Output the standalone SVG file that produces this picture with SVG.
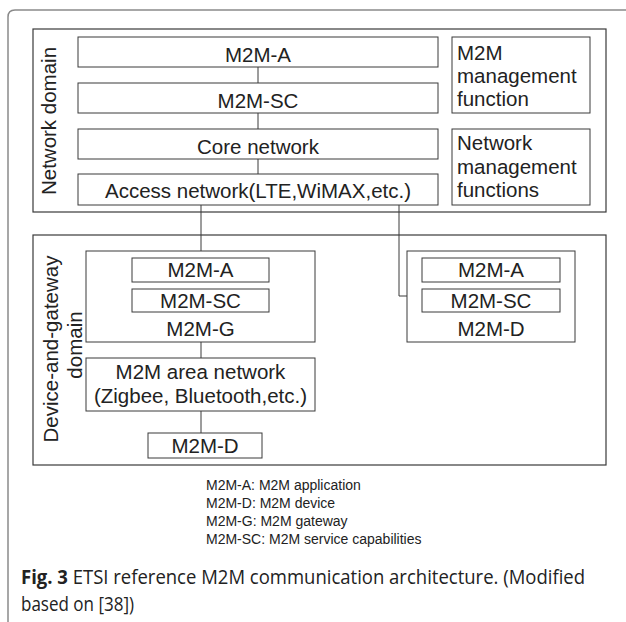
<svg xmlns="http://www.w3.org/2000/svg" width="626" height="622" viewBox="0 0 626 622">
<style>
.frame{fill:none;stroke:#8a8a8a;stroke-width:1.5}
.dom{fill:none;stroke:#3a3a3a;stroke-width:1.2}
.box{fill:#fff;stroke:#3a3a3a;stroke-width:1}
.t{font-family:"Liberation Sans",Arial,sans-serif;font-size:20.5px;fill:#222}
.c{text-anchor:middle}
.lg{font-family:"Liberation Sans",Arial,sans-serif;font-size:14px;fill:#222}
.cap{font-family:"Open Sans","Noto Sans",sans-serif;font-size:20px;fill:#222}
.ln{fill:none;stroke:#3a3a3a;stroke-width:1}
</style>
<rect width="626" height="622" fill="#fff"/>
<path class="frame" d="M8,622 V17 Q8,10 15,10 H626"/>

<g id="network-domain">
<rect class="dom" x="33" y="29" width="573" height="183"/>
<text class="t c" font-size="21" transform="translate(56,121) rotate(-90)">Network domain</text>
</g>
<g id="nd-m2m-a"><rect class="box" x="78" y="37" width="360" height="30"/><text class="t c" x="258" y="61.5">M2M-A</text></g>
<g id="nd-m2m-sc"><rect class="box" x="78" y="83" width="360" height="30"/><text class="t c" x="258" y="107.5">M2M-SC</text></g>
<g id="core-network"><rect class="box" x="78" y="129" width="360" height="30"/><text class="t c" x="258" y="153.5">Core network</text></g>
<g id="access-network"><rect class="box" x="78" y="174" width="360" height="31"/><text class="t c" x="258" y="198">Access network(LTE,WiMAX,etc.)</text></g>
<g id="m2m-mgmt"><rect class="box" x="452" y="37" width="138" height="76"/><text class="t" x="457" y="60">M2M<tspan x="457" y="83">management</tspan><tspan x="457" y="106">function</tspan></text></g>
<g id="net-mgmt"><rect class="box" x="452" y="129" width="138" height="76"/><text class="t" x="457" y="150">Network<tspan x="457" y="173.5">management</tspan><tspan x="457" y="197">functions</tspan></text></g>

<g id="device-gateway-domain">
<rect class="dom" x="33" y="235" width="573" height="230"/>
<text class="t c" font-size="21" transform="translate(58,349) rotate(-90)">Device-and-gateway</text>
<text class="t c" font-size="21" transform="translate(82,345) rotate(-90)">domain</text>
</g>
<g id="m2m-g">
<rect class="box" x="86" y="251" width="229" height="91"/>
<rect class="box" x="132" y="258" width="137" height="24"/><text class="t c" x="200.5" y="277">M2M-A</text>
<rect class="box" x="132" y="289" width="137" height="23"/><text class="t c" x="200.5" y="308">M2M-SC</text>
<text class="t c" x="200.5" y="336">M2M-G</text>
</g>
<g id="area-network">
<rect class="box" x="86" y="358" width="229" height="53"/>
<text class="t c" x="200.5" y="379">M2M area network</text>
<text class="t c" x="200.5" y="403">(Zigbee, Bluetooth,etc.)</text>
</g>
<g id="m2m-d-bottom"><rect class="box" x="148" y="433" width="114" height="25"/><text class="t c" x="205" y="453">M2M-D</text></g>
<g id="m2m-d-right">
<rect class="box" x="407" y="251" width="168" height="91"/>
<rect class="box" x="422" y="258" width="138" height="24"/><text class="t c" x="491" y="277">M2M-A</text>
<rect class="box" x="422" y="289" width="138" height="23"/><text class="t c" x="491" y="308">M2M-SC</text>
<text class="t c" x="491" y="336">M2M-D</text>
</g>

<g id="connectors">
<path class="ln" d="M258,67V83M258,113V129M258,159V174"/>
<path class="ln" d="M201,205V251"/>
<path class="ln" d="M399,205V296H407"/>
<path class="ln" d="M201,342V358"/>
<path class="ln" d="M201,411V433"/>
</g>

<g id="legend">
<text class="lg" x="206" y="490">M2M-A: M2M application</text>
<text class="lg" x="206" y="508">M2M-D: M2M device</text>
<text class="lg" x="206" y="526">M2M-G: M2M gateway</text>
<text class="lg" x="206" y="544">M2M-SC: M2M service capabilities</text>
</g>

<g id="caption">
<text class="cap" x="21" y="584" textLength="564" lengthAdjust="spacingAndGlyphs"><tspan font-weight="bold">Fig. 3</tspan> ETSI reference M2M communication architecture. (Modified</text>
<text class="cap" x="21" y="611" textLength="113" lengthAdjust="spacingAndGlyphs">based on [38])</text>
</g>
</svg>
